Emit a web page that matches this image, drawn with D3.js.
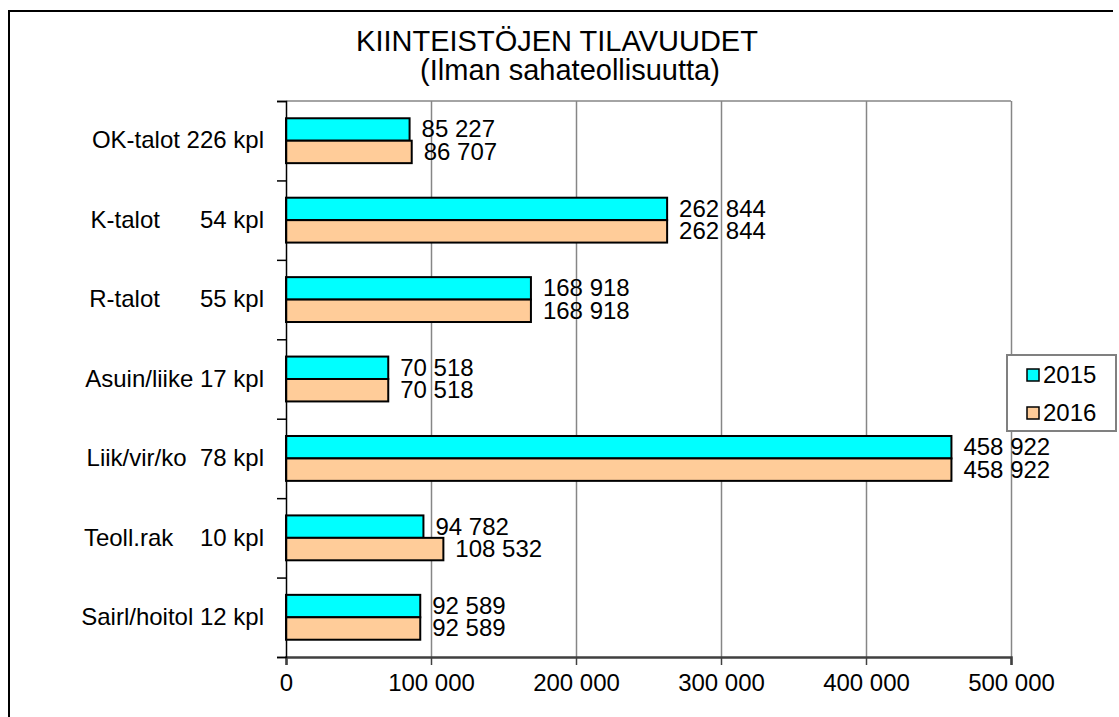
<!DOCTYPE html>
<html>
<head>
<meta charset="utf-8">
<title>Kiinteistöjen tilavuudet</title>
<script src="https://d3js.org/d3.v7.min.js"></script>
<style>
  body { margin: 0; background: #fff; }
  svg text { font-family: Arial, "Liberation Sans", sans-serif; fill: #000; }
</style>
</head>
<body>
<script>
// data
const categories = [
  "OK-talot 226 kpl",
  "K-talot      54 kpl",
  "R-talot      55 kpl",
  "Asuin/liike 17 kpl",
  "Liik/vir/ko  78 kpl",
  "Teoll.rak    10 kpl",
  "Sairl/hoitol 12 kpl"
];
const values2015 = [85227, 262844, 168918, 70518, 458922, 94782, 92589];
const values2016 = [86707, 262844, 168918, 70518, 458922, 108532, 92589];
const seriesNames = ["2015", "2016"];
const seriesColors = ["#00ffff", "#ffcc99"];
const xTicks = [0, 100000, 200000, 300000, 400000, 500000];
const titleLines = ["KIINTEISTÖJEN TILAVUUDET", "(Ilman sahateollisuutta)"];

const w = 1119, h = 717;
const plotL = 286, plotR = 1011, plotT = 101, plotB = 657;

const fi = d3.formatLocale({ decimal: ",", thousands: " ", grouping: [3], currency: ["", ""] });
const fmt = fi.format(",d");

const svg = d3.select("body").append("svg").attr("width", w).attr("height", h);

// outer frame (left + top edge visible)
svg.append("path").attr("d", "M9,717V11H1113")
  .attr("fill", "none").attr("stroke", "#000").attr("stroke-width", 2);

// title
svg.append("text").attr("x", 557).attr("y", 51).attr("text-anchor", "middle")
  .style("font-size", "29px").text(titleLines[0]);
svg.append("text").attr("x", 570).attr("y", 80).attr("text-anchor", "middle")
  .style("font-size", "29px").text(titleLines[1]);

const x = d3.scaleLinear().domain([0, 500000]).range([plotL, plotR]);
const y = d3.scaleBand().domain(categories).range([plotT, plotB]).padding(0);
const ySub = d3.scaleBand().domain(seriesNames).range([0, y.bandwidth()])
  .paddingInner(0).paddingOuter(0.77);

// grid lines
svg.append("g")
  .attr("transform", "translate(0," + plotT + ")")
  .call(d3.axisBottom(x).tickValues(xTicks.slice(1)).tickSize(plotB - plotT).tickFormat(""))
  .call(g => g.select(".domain").remove())
  .selectAll("line").attr("stroke", "#868686").attr("stroke-width", 1.5);
svg.append("line").attr("x1", plotL).attr("x2", plotR).attr("y1", plotT).attr("y2", plotT)
  .attr("stroke", "#868686").attr("stroke-width", 1.5);

// bars
const groups = svg.append("g").selectAll("g")
  .data(categories).enter().append("g")
  .attr("transform", d => "translate(0," + y(d) + ")");

const rows = categories.map((c, i) => [
  { s: seriesNames[0], v: values2015[i], c: seriesColors[0] },
  { s: seriesNames[1], v: values2016[i], c: seriesColors[1] }
]);

groups.each(function (c, i) {
  const g = d3.select(this);
  g.selectAll("rect").data(rows[i]).enter().append("rect")
    .attr("x", x(0))
    .attr("y", d => ySub(d.s))
    .attr("width", d => x(d.v) - x(0))
    .attr("height", ySub.bandwidth())
    .attr("fill", d => d.c)
    .attr("stroke", "#000").attr("stroke-width", 2);
  g.selectAll("text").data(rows[i]).enter().append("text")
    .attr("x", d => x(d.v) + 12)
    .attr("y", d => ySub(d.s) + ySub.bandwidth() / 2 + 8)
    .style("font-size", "24px")
    .text(d => fmt(d.v));
});

// x axis
const xAxis = svg.append("g")
  .attr("transform", "translate(0," + plotB + ")")
  .call(d3.axisBottom(x).tickValues(xTicks).tickSize(8).tickPadding(9).tickFormat(fmt));
xAxis.select(".domain").attr("stroke", "#404040").attr("stroke-width", 2.5);
xAxis.selectAll(".tick line").attr("stroke", "#404040").attr("stroke-width", 1.5);
xAxis.selectAll("text").style("font-size", "24px").attr("fill", "#000");

// y axis: boundary ticks
const yIdx = d3.scaleLinear().domain([0, categories.length]).range([plotT, plotB]);
const yTicksAxis = svg.append("g")
  .attr("transform", "translate(" + plotL + ",0)")
  .call(d3.axisLeft(yIdx).ticks(categories.length).tickSize(9).tickFormat(""));
yTicksAxis.select(".domain").attr("stroke", "#000").attr("stroke-width", 1.5);
yTicksAxis.selectAll(".tick line").attr("stroke", "#000").attr("stroke-width", 1.5);

// y axis: category labels
const yLab = svg.append("g")
  .attr("transform", "translate(" + plotL + ",0)")
  .call(d3.axisLeft(y).tickSize(0).tickPadding(22));
yLab.select(".domain").remove();
yLab.selectAll("text").style("font-size", "24px").style("white-space", "pre")
  .attr("xml:space", "preserve").attr("fill", "#000");

// legend
const lg = svg.append("g");
lg.append("rect").attr("x", 1007).attr("y", 355).attr("width", 109).attr("height", 76)
  .attr("fill", "#fff").attr("stroke", "#808080").attr("stroke-width", 2);
seriesNames.forEach((s, i) => {
  lg.append("rect").attr("x", 1027).attr("y", 369 + i * 38).attr("width", 12).attr("height", 12)
    .attr("fill", seriesColors[i]).attr("stroke", "#000").attr("stroke-width", 1.5);
  lg.append("text").attr("x", 1043).attr("y", 383 + i * 38)
    .style("font-size", "24px").text(s);
});
</script>
</body>
</html>
